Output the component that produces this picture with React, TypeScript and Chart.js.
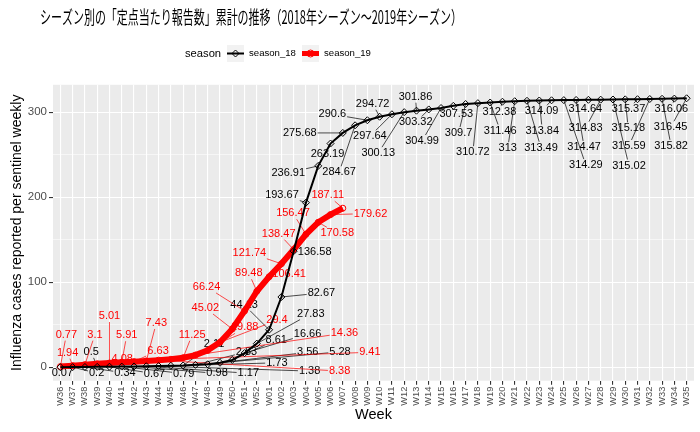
import { useEffect, useRef } from 'react';
import { Chart, registerables } from 'chart.js';
import type { Plugin } from 'chart.js';

Chart.register(...registerables);

// week labels of one flu season (W36 ... W52, W01 ... W35)
const weeks = [
  'W36', 'W37', 'W38', 'W39', 'W40', 'W41', 'W42', 'W43', 'W44', 'W45', 'W46', 'W47', 'W48',
  'W49', 'W50', 'W51', 'W52', 'W01', 'W02', 'W03', 'W04', 'W05', 'W06', 'W07', 'W08', 'W09',
  'W10', 'W11', 'W12', 'W13', 'W14', 'W15', 'W16', 'W17', 'W18', 'W19', 'W20', 'W21', 'W22',
  'W23', 'W24', 'W25', 'W26', 'W27', 'W28', 'W29', 'W30', 'W31', 'W32', 'W33', 'W34', 'W35',
];

// cumulative reports per sentinel
const season18 = [
  0.07, 0.2, 0.34, 0.5, 0.67, 0.79, 0.98, 1.17, 1.38, 1.73, 2.11, 2.83, 3.56,
  5.28, 8.61, 16.66, 27.83, 44.13, 82.67, 136.58, 193.67, 236.91, 263.19, 275.68, 284.67, 290.6,
  294.72, 297.64, 300.13, 301.86, 303.32, 304.99, 307.53, 309.7, 310.72, 311.46, 312.38, 313, 313.49,
  313.84, 314.09, 314.29, 314.47, 314.64, 314.83, 315.02, 315.18, 315.37, 315.59, 315.82, 316.06, 316.45,
];

const season19 = [
  0.77, 1.94, 3.1, 4.08, 5.01, 5.91, 6.63, 7.43, 8.38, 9.41, 11.25, 14.36, 19.88,
  29.4, 45.02, 66.24, 89.48, 106.41, 121.74, 138.47, 156.47, 170.58, 179.62, 187.11,
];

const yMajor = [0, 100, 200, 300];
const yMinor = [50, 150, 250];

// repelled label offsets (px from the point)
const labelOffset18: [number, number][] = [
  [2, 6], [24, 6], [40, 6], [-6, -15], [45, 7], [62, 7], [83, 7], [102, 7], [151, 5], [106, -3],
  [31, -22], [51, -13], [100, -12], [120, -11], [44, -20], [63, -19], [54, -30], [-25, -25],
  [40, -4], [21, 1], [-24, -8], [-30, 7], [-3, 10], [-43, 0], [-16, 47], [-35, -6], [-7, -13],
  [-22, 22], [-26, 41], [-1, -14], [-13, 13], [-19, 33], [3, 8], [-7, 29], [-5, 49], [10, 28],
  [-3, 10], [-7, 47], [14, 47], [3, 30], [-10, 11], [22, 65], [8, 47], [-3, 9], [-15, 28],
  [16, 66], [3, 29], [-9, 10], [-21, 47], [9, 47], [-3, 10], [-16, 29],
];

const labelOffset19: [number, number][] = [
  [6, -32], [-5, -13], [10, -30], [25, -5], [0, -47], [5, -27], [24, -11], [10, -38], [181, 11],
  [199, -7], [9, -23], [149, -22], [37, -23], [57, -22], [-27, -21], [-38, -24], [-8, -18],
  [20, -3], [-32, -11], [-15, -16], [-13, -21], [19, 11], [40, -1], [-15, -13],
];

const TITLE = 'シーズン別の「定点当たり報告数」累計の推移（2018年シーズン～2019年シーズン）';
const FONT = '"Liberation Sans", Arial, sans-serif';
const RED = '#FF0000';

function drawLabels(chart: Chart, idx: number, values: number[], offsets: [number, number][], color: string) {
  const { ctx } = chart;
  const meta = chart.getDatasetMeta(idx);
  ctx.save();
  ctx.font = `11px ${FONT}`;
  ctx.textAlign = 'center';
  ctx.textBaseline = 'middle';
  ctx.fillStyle = color;
  ctx.strokeStyle = color;
  ctx.lineWidth = 0.7;
  values.forEach((v, i) => {
    const pt = meta.data[i];
    if (!pt) return;
    const [dx, dy] = offsets[i];
    const cx = pt.x + dx;
    const cy = pt.y + dy;
    const text = String(v);
    const hw = ctx.measureText(text).width / 2 + 1;
    const hh = 6;
    const t = Math.min(dx !== 0 ? hw / Math.abs(dx) : Infinity, dy !== 0 ? hh / Math.abs(dy) : Infinity);
    if (t < 1) {
      const ex = cx - dx * t;
      const ey = cy - dy * t;
      if (Math.hypot(ex - pt.x, ey - pt.y) > 4) {
        ctx.beginPath();
        ctx.moveTo(pt.x, pt.y);
        ctx.lineTo(ex, ey);
        ctx.stroke();
      }
    }
    ctx.fillText(text, cx, cy);
  });
  ctx.restore();
}

const ggPlugin: Plugin = {
  id: 'ggLook',
  beforeDraw(chart) {
    const { ctx, chartArea: a } = chart;
    ctx.save();
    ctx.fillStyle = '#FFFFFF';
    ctx.fillRect(0, 0, chart.width, chart.height);
    ctx.fillStyle = '#EBEBEB';
    ctx.fillRect(a.left, a.top, a.right - a.left, a.bottom - a.top);
    ctx.restore();
  },
  beforeDatasetsDraw(chart) {
    drawLabels(chart, 0, season18, labelOffset18, '#000000');
    drawLabels(chart, 1, season19, labelOffset19, RED);
  },
  afterDraw(chart) {
    const { ctx, chartArea: a } = chart;
    ctx.save();
    // title (squeezed horizontally like the reference)
    ctx.font = `18px "Noto Sans CJK JP", sans-serif`;
    ctx.textBaseline = 'middle';
    ctx.textAlign = 'left';
    ctx.fillStyle = '#000';
    const tw = ctx.measureText(TITLE).width;
    ctx.save();
    ctx.translate(40, 17);
    ctx.scale(422 / tw, 1);
    ctx.fillText(TITLE, 0, 0);
    ctx.restore();

    // legend
    const ly = 53.5;
    ctx.font = `11.2px ${FONT}`;
    ctx.fillText('season', 185, ly);
    ctx.fillStyle = '#F2F2F2';
    ctx.fillRect(227, 45, 17, 17);
    ctx.fillRect(302, 45, 17, 17);
    ctx.strokeStyle = '#000';
    ctx.lineWidth = 2;
    ctx.beginPath();
    ctx.moveTo(227, ly);
    ctx.lineTo(244, ly);
    ctx.stroke();
    ctx.lineWidth = 1;
    ctx.beginPath();
    ctx.moveTo(235.5, ly - 3.5);
    ctx.lineTo(239, ly);
    ctx.lineTo(235.5, ly + 3.5);
    ctx.lineTo(232, ly);
    ctx.closePath();
    ctx.stroke();
    ctx.strokeStyle = RED;
    ctx.lineWidth = 5;
    ctx.beginPath();
    ctx.moveTo(302, ly);
    ctx.lineTo(319, ly);
    ctx.stroke();
    ctx.lineWidth = 1;
    ctx.beginPath();
    ctx.arc(310.5, ly, 3.5, 0, Math.PI * 2);
    ctx.stroke();
    ctx.fillStyle = '#000';
    ctx.font = `9.6px ${FONT}`;
    ctx.fillText('season_18', 249, ly);
    ctx.fillText('season_19', 324, ly);

    // axis titles
    ctx.textAlign = 'center';
    ctx.font = `14.5px ${FONT}`;
    ctx.fillText('Week', (a.left + a.right) / 2, 415);
    ctx.translate(17, (a.top + a.bottom) / 2);
    ctx.rotate(-Math.PI / 2);
    ctx.font = `14px ${FONT}`;
    ctx.fillText('Influenza cases reported per sentinel weekly', 0, 0);
    ctx.restore();
  },
};

function FluChart() {
  const canvasRef = useRef<HTMLCanvasElement>(null);
  const chartRef = useRef<Chart | null>(null);

  useEffect(() => {
    if (!canvasRef.current) return;
    if (chartRef.current) chartRef.current.destroy();

    const ctx = canvasRef.current.getContext('2d');
    if (!ctx) return;

    Chart.defaults.font.family = FONT;

    chartRef.current = new Chart(ctx, {
      type: 'line',
      data: {
        datasets: [
          {
            label: 'season_18',
            data: season18.map((y, i) => ({ x: i, y })),
            borderColor: '#000000',
            borderWidth: 2,
            pointStyle: 'rectRot',
            pointRadius: 3.5,
            pointBorderWidth: 1,
            pointBorderColor: '#000000',
            pointBackgroundColor: 'rgba(0,0,0,0)',
          },
          {
            label: 'season_19',
            data: season19.map((y, i) => ({ x: i, y })),
            borderColor: RED,
            borderWidth: 6,
            pointStyle: 'circle',
            pointRadius: 3,
            pointBorderWidth: 1,
            pointBorderColor: RED,
            pointBackgroundColor: 'rgba(0,0,0,0)',
          },
        ],
      },
      options: {
        responsive: true,
        maintainAspectRatio: false,
        animation: false,
        layout: { padding: { top: 84.8, right: 6, left: 0, bottom: 0 } },
        plugins: {
          legend: { display: false },
          tooltip: { enabled: false },
        },
        scales: {
          x: {
            type: 'linear',
            min: -0.6,
            max: weeks.length - 0.4,
            afterBuildTicks: (s) => {
              s.ticks = weeks.map((_, i) => ({ value: i }));
            },
            afterFit: (s) => {
              s.height = 51.3;
            },
            ticks: {
              autoSkip: false,
              minRotation: 90,
              maxRotation: 90,
              padding: 2,
              color: '#4D4D4D',
              font: { size: 9.3 },
              callback: (v) => weeks[Math.round(Number(v))] ?? '',
            },
            grid: { color: '#FFFFFF', lineWidth: 1.1, tickLength: 4, tickColor: '#333333' },
            border: { display: false },
          },
          y: {
            min: -15.8,
            max: 332.3,
            afterBuildTicks: (s) => {
              s.ticks = [...yMajor, ...yMinor].sort((p, q) => p - q).map((value) => ({ value }));
            },
            afterFit: (s) => {
              s.width = 53;
            },
            ticks: {
              padding: 2,
              color: '#4D4D4D',
              font: { size: 11.5 },
              callback: (v) => (yMajor.includes(Number(v)) ? String(v) : ''),
            },
            grid: {
              color: '#FFFFFF',
              lineWidth: (c) => (yMajor.includes(c.tick?.value) ? 1.1 : 0.55),
              tickLength: 4,
              tickColor: (c) => (yMajor.includes(c.tick?.value) ? '#333333' : 'rgba(0,0,0,0)'),
            },
            border: { display: false },
          },
        },
      },
      plugins: [ggPlugin],
    });

    return () => {
      if (chartRef.current) {
        chartRef.current.destroy();
        chartRef.current = null;
      }
    };
  }, []);

  return (
    <div style={{ position: 'relative', width: '700px', height: '432px' }}>
      <canvas ref={canvasRef}></canvas>
    </div>
  );
}

export default function App() {
  useEffect(() => {
    document.body.style.margin = '0';
  }, []);
  return <FluChart />;
}
